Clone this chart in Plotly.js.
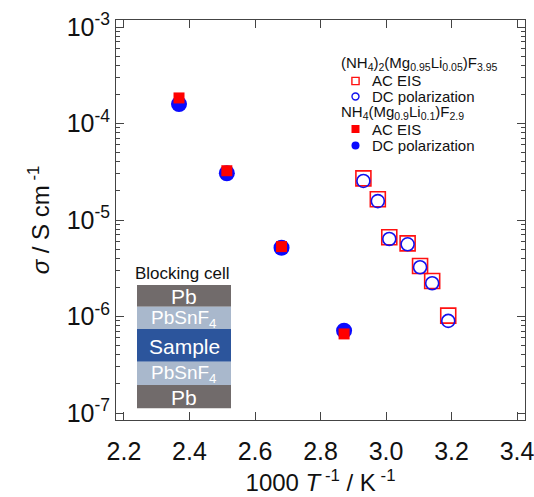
<!DOCTYPE html>
<html>
<head>
<meta charset="utf-8">
<script src="https://cdn.plot.ly/plotly-3.0.1.min.js"></script>
<style>html,body{margin:0;padding:0;background:#fff;}#chart{width:534px;height:497px;}</style>
</head>
<body>
<div id="chart"></div>
<script>
// (NH4)2(Mg0.95Li0.05)F3.95 — open symbols
const xOpen = [2.931, 2.975, 3.010, 3.066, 3.104, 3.141, 3.190];
const acOpen = [2.70e-5, 1.64e-5, 6.62e-6, 5.73e-6, 3.34e-6, 2.33e-6, 1.02e-6];
const dcOpen = [2.54e-5, 1.57e-5, 6.35e-6, 5.60e-6, 3.24e-6, 2.21e-6, 9.0e-7];
// NH4(Mg0.9Li0.1)F2.9 — filled symbols
const xFilled = [2.368, 2.514, 2.681, 2.872];
const acFilled = [1.84e-4, 3.24e-5, 5.3e-6, 6.6e-7];
const dcFilled = [1.59e-4, 3.05e-5, 5.16e-6, 7.13e-7];

const seriesNames = ['AC EIS', 'DC polarization'];
const groupA = '(NH<sub>4</sub>)<sub>2</sub>(Mg<sub>0.95</sub>Li<sub>0.05</sub>)F<sub>3.95</sub>';
const groupB = 'NH<sub>4</sub>(Mg<sub>0.9</sub>Li<sub>0.1</sub>)F<sub>2.9</sub>';

const yTickVals = [1e-7, 1e-6, 1e-5, 1e-4, 1e-3];
const yTickText = ['10<sup>-7</sup>', '10<sup>-6</sup>', '10<sup>-5</sup>', '10<sup>-4</sup>', '10<sup>-3</sup>'];
const xTickVals = [2.2, 2.4, 2.6, 2.8, 3.0, 3.2, 3.4];
const xTickText = ['2.2', '2.4', '2.6', '2.8', '3.0', '3.2', '3.4'];

const cellLabels = ['Pb', 'PbSnF<sub>4</sub>', 'Sample', 'PbSnF<sub>4</sub>', 'Pb'];

const RED = '#ff1111', BLUE = '#1111ee';

const minorY = [];
for (let e = -7; e < -3; e++) for (let m = 2; m <= 9; m++) minorY.push(m * Math.pow(10, e));

const traces = [
  {x: xOpen, y: acOpen, mode: 'markers', name: seriesNames[0],
   marker: {symbol: 'square-open', size: 15, color: RED, line: {width: 1.6}}},
  {x: xOpen, y: dcOpen, mode: 'markers', name: seriesNames[1],
   marker: {symbol: 'circle-open', size: 13, color: BLUE, line: {width: 1.6}}},
  {x: xFilled, y: dcFilled, mode: 'markers', name: seriesNames[1],
   marker: {symbol: 'circle', size: 16, color: '#0a0aff'}},
  {x: xFilled, y: acFilled, mode: 'markers', name: seriesNames[0],
   marker: {symbol: 'square', size: 11, color: '#ff0000'}}
];

const FONT = 'Liberation Sans, Arial, Helvetica, sans-serif';
const axisCommon = {
  showline: true, linecolor: '#444', linewidth: 1, mirror: 'allticks',
  ticks: 'inside', ticklen: 8, tickcolor: '#444', tickwidth: 1,
  showgrid: false, zeroline: false, ticklabeloverflow: 'allow',
  tickfont: {size: 25, color: '#111', family: FONT}
};

const layout = {
  width: 534, height: 497,
  margin: {l: 116, r: 9, t: 20, b: 77},
  paper_bgcolor: '#fff', plot_bgcolor: '#fff',
  font: {family: FONT, color: '#111'},
  showlegend: false,
  xaxis: Object.assign({}, axisCommon, {
    range: [2.1756, 3.4244], tickvals: xTickVals, ticktext: xTickText, ticklabelstandoff: 9,
    title: {text: '1000 <i>T</i><sup> -1</sup> / K<sup> -1</sup>', font: {size: 24}, standoff: 10}
  }),
  yaxis: Object.assign({}, axisCommon, {
    type: 'log', range: [-7.0725, -2.9275], tickvals: yTickVals, ticktext: yTickText,
    minor: {tickvals: minorY, ticks: 'inside', ticklen: 4, tickcolor: '#444', showgrid: false},
    title: {text: '<i>σ</i> / S cm<sup> -1</sup>', font: {size: 24}, standoff: 10}
  }),
  shapes: [],
  annotations: []
};

// pixel -> paper helpers for decorations
const px = v => (v - 116) / 409;
const py = v => (420 - v) / 400;

// Blocking cell inset (decorative)
const bounds = [285, 306.7, 329, 361.7, 385, 408.3];
const cellColors = ['#716b6b', '#a9b8cc', '#2c559c', '#a9b8cc', '#716b6b'];
const cellFont = [21, 19, 21, 19, 21];
cellLabels.forEach((lab, i) => {
  layout.shapes.push({type: 'rect', xref: 'paper', yref: 'paper', layer: 'above',
    x0: px(137), x1: px(231), y0: py(bounds[i + 1]), y1: py(bounds[i]), fillcolor: cellColors[i], line: {width: 0}});
  layout.annotations.push({xref: 'paper', yref: 'paper', x: px(184), y: py((bounds[i] + bounds[i + 1]) / 2 + 1),
    text: lab, showarrow: false, font: {size: cellFont[i], color: '#fff'}, xanchor: 'center', yanchor: 'middle'});
});
layout.annotations.push({xref: 'paper', yref: 'paper', x: px(182), y: py(273), text: 'Blocking cell',
  showarrow: false, font: {size: 17, color: '#111'}, xanchor: 'center', yanchor: 'middle'});

// Legend (manual, compact like the original)
const LFS = 15;
const addText = (txt, x, y) => layout.annotations.push({xref: 'paper', yref: 'paper', x: px(x), y: py(y),
  text: txt, showarrow: false, font: {size: LFS, color: '#111'}, xanchor: 'left', yanchor: 'middle'});
addText(groupA, 339, 63);
addText(seriesNames[0], 370, 80.5);
addText(seriesNames[1], 370, 96.5);
addText(groupB, 339, 112.5);
addText(seriesNames[0], 370, 129);
addText(seriesNames[1], 370, 145.5);
const sym = (type, cx, cy, r, fill, line) => layout.shapes.push({type: type, xref: 'paper', yref: 'paper',
  x0: px(cx - r), x1: px(cx + r), y0: py(cy + r), y1: py(cy - r), fillcolor: fill, line: line});
sym('rect', 355.5, 81, 3.6, 'rgba(0,0,0,0)', {color: RED, width: 1.4});
sym('circle', 355.5, 96.5, 3.5, 'rgba(0,0,0,0)', {color: BLUE, width: 1.4});
sym('rect', 355.5, 129, 4, '#ff0000', {width: 0});
sym('circle', 355.5, 145.5, 4, '#0a0aff', {width: 0});

Plotly.newPlot('chart', traces, layout, {displayModeBar: false, staticPlot: true});
</script>
</body>
</html>
